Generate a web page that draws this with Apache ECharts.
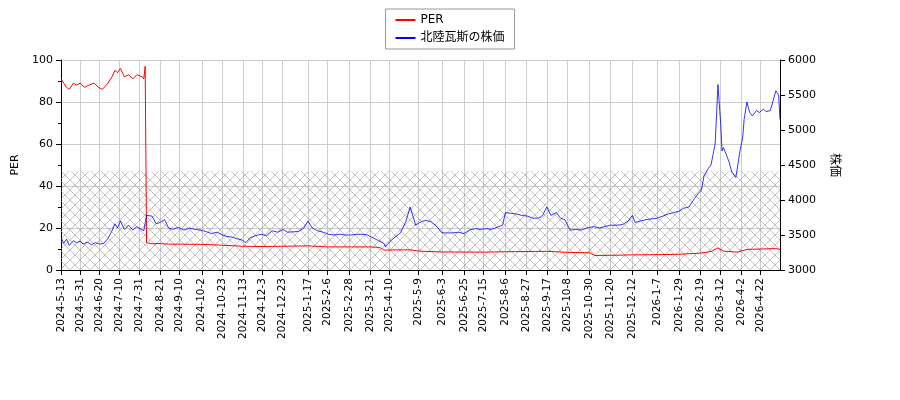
<!DOCTYPE html>
<html>
<head>
<meta charset="utf-8">
<script src="https://cdn.jsdelivr.net/npm/echarts@6/dist/echarts.min.js"></script>
<style>html,body{margin:0;padding:0;background:#fff}#main{width:900px;height:400px}</style>
</head>
<body>
<div id="main"></div>
<script>
// x 軸に表示する日付
var labelDates = ['2024-5-13','2024-5-31','2024-6-20','2024-7-10','2024-7-31','2024-8-21','2024-9-10','2024-10-2','2024-10-23','2024-11-13','2024-12-3','2024-12-23','2025-1-17','2025-2-6','2025-2-28','2025-3-21','2025-4-10','2025-5-9','2025-6-3','2025-6-25','2025-7-15','2025-8-6','2025-8-27','2025-9-17','2025-10-8','2025-10-30','2025-11-20','2025-12-12','2026-1-7','2026-1-29','2026-2-19','2026-3-12','2026-4-2','2026-4-22'];
var startDate = '2024-5-13';
var endDate = '2026-5-12';

// PER
var perData = [
  ['2024-5-13',91],['2024-5-14',90],['2024-5-17',87],['2024-5-21',86],['2024-5-24',89],['2024-5-28',88],['2024-5-31',89],
  ['2024-6-5',87],['2024-6-10',88],['2024-6-14',89],['2024-6-19',87],['2024-6-24',86],['2024-6-28',89],['2024-7-3',92],
  ['2024-7-5',95],['2024-7-9',94],['2024-7-11',96],['2024-7-16',92],['2024-7-19',93],['2024-7-24',91],['2024-7-29',93],
  ['2024-8-2',92],['2024-8-5',91],['2024-8-6',97],['2024-8-7',13],['2024-8-13',12.5],['2024-8-21',12.6],['2024-8-29',12.3],
  ['2024-9-10',12.3],['2024-10-2',12.2],['2024-10-23',11.8],['2024-11-13',11.3],['2024-12-3',11.2],['2024-12-23',11.3],
  ['2025-1-17',11.5],['2025-2-6',11.0],['2025-2-28',11.0],['2025-3-21',11.0],['2025-4-1',10.7],['2025-4-4',9.5],['2025-4-7',9.0],
  ['2025-5-1',9.6],['2025-5-9',9.0],['2025-6-3',8.6],['2025-7-15',8.5],['2025-8-6',8.7],['2025-9-17',8.9],['2025-10-8',8.4],
  ['2025-10-30',8.2],['2025-11-5',6.9],['2025-11-20',7.0],['2025-12-12',7.2],['2026-1-7',7.3],['2026-1-29',7.5],['2026-2-19',8.0],
  ['2026-3-3',8.8],['2026-3-10',10.5],['2026-3-16',9.0],['2026-3-30',8.5],['2026-4-8',9.8],['2026-4-22',10.0],['2026-5-7',10.2],['2026-5-12',9.8]
];

// 株価
var priceData = [
  ['2024-5-13',3470],['2024-5-15',3380],['2024-5-17',3440],['2024-5-21',3350],['2024-5-24',3420],['2024-5-28',3390],['2024-5-31',3410],
  ['2024-6-4',3370],['2024-6-7',3400],['2024-6-12',3360],['2024-6-17',3390],['2024-6-20',3370],['2024-6-25',3380],['2024-6-28',3450],
  ['2024-7-3',3560],['2024-7-5',3660],['2024-7-9',3600],['2024-7-11',3700],['2024-7-16',3580],['2024-7-19',3640],['2024-7-24',3570],
  ['2024-7-29',3620],['2024-8-1',3580],['2024-8-5',3560],['2024-8-7',3780],['2024-8-13',3770],['2024-8-16',3660],['2024-8-21',3680],
  ['2024-8-26',3720],['2024-8-29',3600],['2024-9-3',3580],['2024-9-9',3610],['2024-9-13',3570],['2024-9-19',3600],['2024-9-25',3580],
  ['2024-10-1',3570],['2024-10-7',3550],['2024-10-11',3520],['2024-10-17',3540],['2024-10-23',3500],['2024-10-28',3480],['2024-11-1',3470],
  ['2024-11-6',3450],['2024-11-12',3430],['2024-11-15',3390],['2024-11-20',3460],['2024-11-26',3490],['2024-12-2',3510],['2024-12-6',3490],
  ['2024-12-12',3560],['2024-12-18',3540],['2024-12-24',3580],['2024-12-27',3540],['2025-1-8',3550],['2025-1-14',3600],['2025-1-17',3700],
  ['2025-1-22',3600],['2025-1-28',3560],['2025-2-3',3540],['2025-2-7',3510],['2025-2-13',3500],['2025-2-19',3510],['2025-2-25',3500],
  ['2025-3-3',3500],['2025-3-7',3510],['2025-3-13',3510],['2025-3-19',3500],['2025-3-25',3460],['2025-3-31',3420],['2025-4-4',3380],
  ['2025-4-7',3330],['2025-4-10',3400],['2025-4-16',3470],['2025-4-22',3530],['2025-4-28',3700],['2025-5-1',3900],['2025-5-7',3640],
  ['2025-5-12',3680],['2025-5-16',3710],['2025-5-22',3690],['2025-5-28',3630],['2025-6-3',3530],['2025-6-9',3530],['2025-6-13',3530],
  ['2025-6-19',3540],['2025-6-25',3520],['2025-7-1',3570],['2025-7-7',3590],['2025-7-11',3580],['2025-7-17',3590],['2025-7-23',3580],
  ['2025-7-29',3610],['2025-8-4',3640],['2025-8-6',3820],['2025-8-12',3810],['2025-8-18',3800],['2025-8-22',3780],['2025-8-28',3770],
  ['2025-9-3',3740],['2025-9-9',3740],['2025-9-12',3780],['2025-9-17',3900],['2025-9-22',3780],['2025-9-26',3820],['2025-10-1',3740],
  ['2025-10-6',3720],['2025-10-10',3570],['2025-10-16',3580],['2025-10-22',3570],['2025-10-28',3600],['2025-11-4',3620],['2025-11-10',3600],
  ['2025-11-14',3620],['2025-11-20',3640],['2025-11-27',3640],['2025-12-3',3650],['2025-12-9',3700],['2025-12-12',3780],['2025-12-16',3680],
  ['2025-12-22',3700],['2025-12-26',3720],['2026-1-7',3740],['2026-1-13',3770],['2026-1-19',3800],['2026-1-23',3820],['2026-1-29',3840],
  ['2026-2-3',3880],['2026-2-9',3900],['2026-2-13',4020],['2026-2-18',4100],['2026-2-20',4140],['2026-2-24',4350],['2026-2-27',4450],
  ['2026-3-3',4500],['2026-3-6',4800],['2026-3-9',5200],['2026-3-10',5650],['2026-3-12',5100],['2026-3-13',4700],['2026-3-16',4750],
  ['2026-3-18',4650],['2026-3-20',4550],['2026-3-24',4400],['2026-3-27',4320],['2026-3-30',4300],['2026-4-1',4700],['2026-4-3',4900],
  ['2026-4-6',5150],['2026-4-8',5400],['2026-4-10',5250],['2026-4-14',5200],['2026-4-17',5280],['2026-4-21',5250],['2026-4-24',5300],
  ['2026-4-28',5260],['2026-5-1',5280],['2026-5-7',5560],['2026-5-11',5500],['2026-5-12',5150]
];

// 営業日（平日）のカテゴリを作る
function fmt(d) { return d.getFullYear() + '-' + (d.getMonth() + 1) + '-' + d.getDate(); }
function parse(s) { var p = s.split('-'); return new Date(+p[0], +p[1] - 1, +p[2]); }
var categories = [];
for (var d = parse(startDate); d <= parse(endDate); d.setDate(d.getDate() + 1)) {
  if (d.getDay() !== 0 && d.getDay() !== 6) categories.push(fmt(d));
}
function toIndex(arr) {
  return arr.map(function (p) {
    var t = parse(p[0]).getTime();
    var i = 0;
    while (i < categories.length - 1 && parse(categories[i]).getTime() < t) i++;
    return [i, p[1]];
  });
}
var showLabel = function (idx, val) { return labelDates.indexOf(val) >= 0; };

// 網掛けパターン
var pc = document.createElement('canvas');
pc.width = 10; pc.height = 10;
var ctx = pc.getContext('2d');
ctx.strokeStyle = '#999';
ctx.lineWidth = 0.6;
ctx.beginPath();
ctx.moveTo(0, 0); ctx.lineTo(10, 10);
ctx.moveTo(10, 0); ctx.lineTo(0, 10);
ctx.stroke();

var myChart = echarts.init(document.getElementById('main'));
var option = {
  animation: false,
  textStyle: { fontFamily: 'DejaVu Sans' },
  legend: {
    orient: 'vertical',
    top: 9,
    left: 'center',
    padding: [5, 10],
    itemGap: 6,
    itemWidth: 20,
    itemHeight: 2,
    borderColor: '#999',
    borderWidth: 1,
    textStyle: { fontSize: 12, color: '#000', fontFamily: ['DejaVu Sans', 'Noto Sans CJK JP'] },
    data: [
      { name: 'PER', icon: 'rect' },
      { name: '北陸瓦斯の株価', icon: 'rect' }
    ]
  },
  grid: { left: 61, right: 120, top: 60, bottom: 130 },
  xAxis: {
    type: 'category',
    boundaryGap: false,
    data: categories,
    axisLine: { lineStyle: { color: '#000' } },
    axisTick: { interval: showLabel, lineStyle: { color: '#000' } },
    axisLabel: { interval: showLabel, rotate: 90, color: '#000', fontSize: 10.5 },
    splitLine: { show: true, interval: showLabel, lineStyle: { color: '#ccc' } }
  },
  yAxis: [
    {
      type: 'value', min: 0, max: 100, interval: 20,
      name: 'PER', nameLocation: 'middle', nameGap: 40, nameRotate: 90,
      nameTextStyle: { color: '#000', fontSize: 11 },
      axisLine: { show: true, lineStyle: { color: '#000' } },
      axisTick: { show: true },
      axisLabel: { color: '#000', fontSize: 11 },
      minorTick: { show: true, splitNumber: 2 },
      splitLine: { lineStyle: { color: '#ccc' } }
    },
    {
      type: 'value', min: 3000, max: 6000, interval: 500,
      name: '株価', nameLocation: 'middle', nameGap: 50, nameRotate: -90,
      nameTextStyle: { color: '#000', fontSize: 12, fontFamily: 'Noto Sans CJK JP' },
      axisLine: { show: true, lineStyle: { color: '#000' } },
      axisTick: { show: true },
      axisLabel: { color: '#000', fontSize: 11, formatter: function (v) { return String(v); } },
      splitLine: { show: false }
    }
  ],
  series: [
    {
      name: 'PER',
      type: 'line',
      yAxisIndex: 0,
      showSymbol: false,
      color: '#ff0000',
      lineStyle: { width: 1, color: '#ff0000' },
      data: toIndex(perData),
      markArea: {
        silent: true,
        itemStyle: { color: { image: pc, repeat: 'repeat' } },
        data: [[{ xAxis: 0, yAxis: 0 }, { xAxis: categories.length - 1, yAxis: 47 }]]
      }
    },
    {
      name: '北陸瓦斯の株価',
      type: 'line',
      yAxisIndex: 1,
      showSymbol: false,
      color: '#0000ff',
      lineStyle: { width: 0.8, color: '#0000ff' },
      data: toIndex(priceData)
    }
  ]
};
myChart.setOption(option);
</script>
</body>
</html>
